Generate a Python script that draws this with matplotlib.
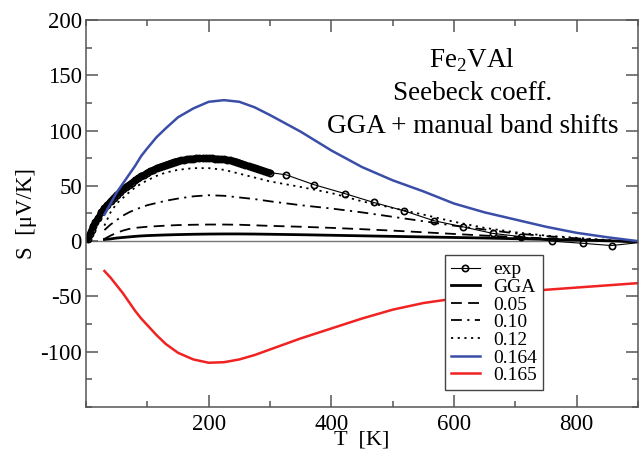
import matplotlib
matplotlib.use("Agg")
import matplotlib.pyplot as plt
from matplotlib.ticker import MultipleLocator

plt.rcParams['font.family'] = ['Liberation Serif', 'DejaVu Serif']
plt.rcParams['mathtext.fontset'] = 'custom'
plt.rcParams['mathtext.rm'] = 'Liberation Serif'
plt.rcParams['axes.unicode_minus'] = False

# measured Seebeck coefficient (dense low-T scan, then sparse points)
T_exp = [3, 6, 9, 12, 15, 20, 25, 30, 35, 40, 45, 50, 55, 60, 65, 70, 75, 80, 85, 90,
         95, 100, 105, 110, 115, 120, 125, 130, 135, 140, 145, 150, 155, 160, 165, 170,
         175, 180, 185, 190, 195, 200, 205, 210, 215, 220, 225, 230, 235, 240, 245, 250,
         255, 260, 265, 270, 275, 280, 285, 290, 295, 300,
         326, 372, 422, 469, 518, 567, 614, 663, 710, 760, 810, 857, 907]
S_exp = [2, 6, 10, 14, 17, 21, 26, 30, 33, 36, 39, 42, 44, 47, 49, 51, 53, 55, 57, 59,
         60, 62, 63, 64.5, 66, 67, 68, 69, 70, 71, 72, 72.5, 73, 73.5, 74, 74.5,
         74.5, 75, 75, 75, 75, 75, 75, 74.5, 74.5, 74, 74, 73.5, 73, 72.5, 72, 71,
         70, 69, 68, 67, 66.5, 65.5, 64.5, 63.5, 62.5, 62,
         60, 51, 43, 35, 27.5, 18.5, 13, 7, 4, 0, -2, -4, -1]
n_dense = 62

# calculated curves
T_calc = [30, 40, 50, 60, 70, 80, 90, 100, 115, 130, 150, 175, 200, 225, 250, 275, 300,
          350, 400, 450, 500, 550, 600, 650, 700, 750, 800, 850, 900]
S_gga = [1.5, 2, 2.8, 3.3, 3.8, 4.3, 4.7, 5, 5.3, 5.6, 5.9, 6.2, 6.4, 6.5, 6.5, 6.4, 6.2,
         5.8, 5.3, 4.8, 4.3, 3.8, 3.3, 2.8, 2.2, 1.6, 1, 0.3, -0.5]
S_005 = [2, 5, 7.5, 9.5, 11, 12, 12.5, 13, 13.5, 14, 14.5, 14.8, 15, 15, 14.8, 14.3, 13.8,
         13, 12, 10.8, 9.5, 8, 6.5, 5, 3.8, 2.5, 1.5, 0.5, -0.5]
S_010 = [10, 15, 19, 23, 26, 28.5, 30.5, 32.5, 34.5, 36.5, 38.5, 40.5, 41.5, 41, 39.5, 38, 36,
         32.5, 29.5, 26, 22, 18, 14, 10.5, 7, 4.5, 2.5, 0.5, -1]
S_012 = [14, 26, 34, 39, 44, 48.5, 52, 55, 59, 62, 64.5, 66, 66, 64.5, 61, 57.5, 54,
         49, 43.5, 36, 30, 24, 17.5, 12, 8, 5, 3, 1, -1]
S_0164 = [24, 34, 44, 52, 60, 68, 77, 84, 94, 102, 112, 120, 126, 127.5, 126, 121, 114,
          99, 82, 67, 55, 45, 34, 26, 19.5, 13, 7.5, 3.5, 0]
S_0165 = [-27, -33, -40, -47, -55, -63, -70, -76, -85, -93, -101, -107, -110, -109.5, -107, -103, -98,
          -88, -79, -70, -62, -56, -52, -49, -46.5, -44, -42, -40, -38]

fig = plt.figure(figsize=(6.39, 4.51), dpi=100)
ax = fig.add_axes([0.1346, 0.0976, 0.8638, 0.8581])

ax.axhline(0, color='#777777', lw=1.0, zorder=1)

# dense part of the scan drawn as a thick band
ax.plot(T_exp[:n_dense], S_exp[:n_dense], '-', color='black', lw=4.5, solid_capstyle='round')
ax.plot(T_exp, S_exp, 'o-', color='black', lw=0.8, ms=4.5, mfc='none', mew=1.2, label='exp')
ax.plot(T_calc, S_gga, '-', color='black', lw=2, label='GGA')
ax.plot(T_calc, S_005, color='black', lw=1.3, dashes=(6, 3.5), label='0.05')
ax.plot(T_calc, S_010, color='black', lw=1.3, dashes=(6, 3, 1.2, 3), label='0.10')
ax.plot(T_calc, S_012, color='black', lw=1.3, dashes=(1.2, 2.5), label='0.12')
ax.plot(T_calc, S_0164, color='#3a4ea8', lw=1.8, label='0.164')
ax.plot(T_calc, S_0165, color='#f02222', lw=1.8, label='0.165')

ax.set_xlim(0, 900)
ax.set_ylim(-150, 200)
ax.set_xticks([200, 400, 600, 800])
ax.set_yticks([-100, -50, 0, 50, 100, 150, 200])
ax.xaxis.set_minor_locator(MultipleLocator(100))
ax.yaxis.set_minor_locator(MultipleLocator(25))
ax.tick_params(which='both', direction='in', top=True, right=True, color='#555555',
               labelsize=16.5)
ax.tick_params(which='major', length=8.5, width=1.1)
ax.tick_params(which='minor', length=4, width=1.1)
ax.tick_params(axis='y', pad=3)
ax.tick_params(axis='x', pad=5)
for sp in ax.spines.values():
    sp.set_color('#555555')
    sp.set_linewidth(1.1)

ax.set_xlabel('T  [K]', fontsize=16, labelpad=-3)
ax.set_ylabel('S  [μV/K]', fontsize=16.5, labelpad=2)

ax.text(0.70, 0.897, r'Fe$_\mathrm{2}$VAl', transform=ax.transAxes, ha='center', va='center', fontsize=19.5)
ax.text(0.70, 0.811, 'Seebeck coeff.', transform=ax.transAxes, ha='center', va='center', fontsize=19.5)
ax.text(0.70, 0.726, 'GGA + manual band shifts', transform=ax.transAxes, ha='center', va='center', fontsize=19.5)

leg = ax.legend(loc='lower left', bbox_to_anchor=(0.65, 0.044), fontsize=14, frameon=True,
                fancybox=False, edgecolor='#444444', framealpha=1, handlelength=1.5,
                handletextpad=0.7, labelspacing=0.0, borderpad=0.3, borderaxespad=0)
leg.get_frame().set_linewidth(1.0)

fig.savefig('out.png', dpi=100)
